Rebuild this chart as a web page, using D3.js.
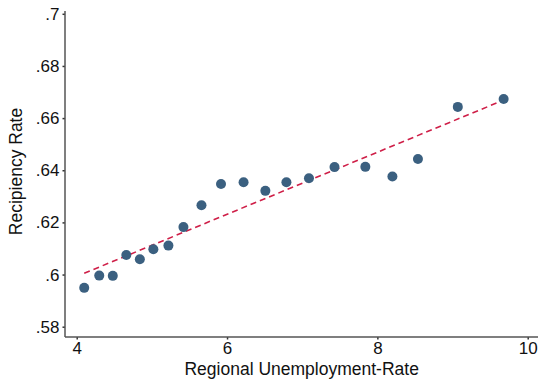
<!DOCTYPE html>
<html>
<head>
<meta charset="utf-8">
<script src="https://cdn.jsdelivr.net/npm/d3@7"></script>
<style>
  html, body { margin: 0; padding: 0; background: #fff; }
  svg { display: block; }
  text { font-family: "Liberation Sans", Arial, sans-serif; fill: #111; }
</style>
</head>
<body>
<svg id="chart" width="539" height="381"></svg>
<script>
// Regional unemployment rate (x) vs. recipiency rate (y), binned scatter
const unemployment = [4.10, 4.30, 4.48, 4.66, 4.84, 5.02, 5.22, 5.42, 5.66, 5.92,
                      6.22, 6.51, 6.79, 7.09, 7.43, 7.84, 8.20, 8.54, 9.07, 9.68];
const recipiency   = [0.5949, 0.5996, 0.5995, 0.6075, 0.6059, 0.6097, 0.6111, 0.6182, 0.6266, 0.6347,
                      0.6354, 0.6321, 0.6354, 0.6369, 0.6412, 0.6413, 0.6376, 0.6443, 0.6643, 0.6673];

// Linear fit endpoints
const fitX = [4.10, 9.68];
const fitY = [0.6005, 0.6669];

const xTicks = [4, 6, 8, 10];
const xTickLabels = ["4", "6", "8", "10"];
const yTicks = [0.58, 0.60, 0.62, 0.64, 0.66, 0.68, 0.70];
const yTickLabels = [".58", ".6", ".62", ".64", ".66", ".68", ".7"];

const svg = d3.select("#chart");

const x = d3.scaleLinear().domain([4, 10]).range([76.7, 527.7]);
const y = d3.scaleLinear().domain([0.58, 0.70]).range([326.7, 13.8]);

const axisLeft = 65, axisBottom = 337, axisTop = 11, axisRight = 538;
const axisColor = "#555";
const tickFont = "17px";

// X axis
const xAxis = d3.axisBottom(x)
  .tickValues(xTicks)
  .tickFormat((d, i) => xTickLabels[i])
  .tickSize(2.5)
  .tickPadding(2.5);
const gx = svg.append("g").attr("transform", `translate(0,${axisBottom})`).call(xAxis);
gx.select(".domain").remove();
gx.selectAll(".tick line").attr("stroke", "#333").attr("stroke-width", 1.5);
gx.selectAll(".tick text").style("font-size", tickFont).attr("fill", "#111")
  .style("font-family", "'Liberation Sans', Arial, sans-serif");
svg.append("line")
  .attr("x1", axisLeft).attr("x2", axisRight)
  .attr("y1", axisBottom).attr("y2", axisBottom)
  .attr("stroke", axisColor).attr("stroke-width", 1.5);

// Y axis
const yAxis = d3.axisLeft(y)
  .tickValues(yTicks)
  .tickFormat((d, i) => yTickLabels[i])
  .tickSize(2.5)
  .tickPadding(3);
const gy = svg.append("g").attr("transform", `translate(${axisLeft},0)`).call(yAxis);
gy.select(".domain").remove();
gy.selectAll(".tick line").attr("stroke", "#333").attr("stroke-width", 1.5);
gy.selectAll(".tick text").style("font-size", tickFont).attr("fill", "#111")
  .style("font-family", "'Liberation Sans', Arial, sans-serif");
svg.append("line")
  .attr("x1", axisLeft).attr("x2", axisLeft)
  .attr("y1", axisTop).attr("y2", axisBottom)
  .attr("stroke", axisColor).attr("stroke-width", 1.5);

// Axis titles
svg.append("text")
  .attr("x", 301.7).attr("y", 374.5)
  .attr("text-anchor", "middle")
  .style("font-size", "17.5px")
  .text("Regional Unemployment-Rate");

svg.append("text")
  .attr("transform", "translate(22,171.5) rotate(-90)")
  .attr("text-anchor", "middle")
  .style("font-size", "17.5px")
  .text("Recipiency Rate");

// Fitted line
svg.append("line")
  .attr("x1", x(fitX[0])).attr("y1", y(fitY[0]))
  .attr("x2", x(fitX[1])).attr("y2", y(fitY[1]))
  .attr("stroke", "#cf1f48")
  .attr("stroke-width", 1.6)
  .attr("stroke-dasharray", "6,4");

// Points
svg.append("g").selectAll("circle")
  .data(unemployment.map((u, i) => [u, recipiency[i]]))
  .join("circle")
  .attr("cx", d => x(d[0]))
  .attr("cy", d => y(d[1]))
  .attr("r", 5)
  .attr("fill", "#3b6080");
</script>
</body>
</html>
